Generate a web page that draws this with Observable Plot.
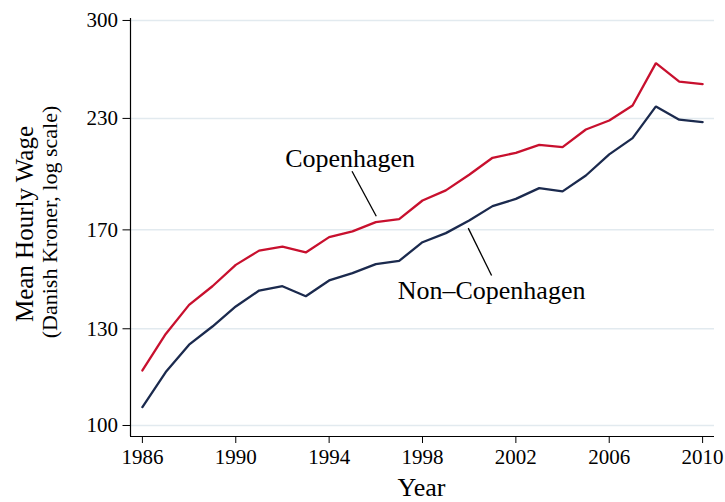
<!DOCTYPE html>
<html>
<head>
<meta charset="utf-8">
<script src="https://cdn.jsdelivr.net/npm/d3@7"></script>
<script src="https://cdn.jsdelivr.net/npm/@observablehq/plot@0.6"></script>
<style>
  html, body { margin: 0; padding: 0; background: #ffffff; }
  #chart { width: 725px; height: 502px; }
</style>
</head>
<body>
<div id="chart"></div>
<script>
const years = [1986, 1987, 1988, 1989, 1990, 1991, 1992, 1993, 1994, 1995, 1996, 1997, 1998,
               1999, 2000, 2001, 2002, 2003, 2004, 2005, 2006, 2007, 2008, 2009, 2010];
const copenhagen = [116.1, 128.2, 138.7, 145.9, 154.6, 160.7, 162.4, 159.9, 166.7, 169.3, 173.6, 175.0, 184.1,
                    189.2, 197.4, 206.7, 209.5, 214.1, 212.8, 223.2, 228.7, 238.2, 267.2, 254.2, 252.4];
const nonCopenhagen = [105.1, 115.6, 124.5, 130.8, 138.1, 144.2, 145.9, 142.0, 148.2, 151.2, 154.9, 156.3, 164.4,
                       168.5, 174.4, 181.3, 184.9, 190.4, 188.7, 197.0, 208.6, 218.0, 237.6, 229.2, 227.7];
const seriesNames = ["Copenhagen", "Non\u2013Copenhagen"];
const xTicks = [1986, 1990, 1994, 1998, 2002, 2006, 2010];
const yTicks = [100, 130, 170, 230, 300];
const xLabel = "Year";
const yLabel = "Mean Hourly Wage";
const ySubLabel = "(Danish Kroner, log scale)";

// annotation anchors (in data units: year, wage)
const labelX = [1994.9, 2000.96];
const labelY = [206.3, 144.2];
const pointerFrom = [[1994.98, 199.3], [1999.96, 170.8]];
const pointerTo = [[1996.02, 176.4], [2000.96, 150.2]];

const colors = ["#c8102e", "#1b2a4e"];
const xDomain = [1985.49, 2010.51];
const yDomain = [97.06, 301.6];

const rows = [];
years.forEach((yr, i) => {
  rows.push({year: yr, wage: copenhagen[i], series: seriesNames[0]});
  rows.push({year: yr, wage: nonCopenhagen[i], series: seriesNames[1]});
});
const labels = seriesNames.map((s, i) => ({text: s, x: labelX[i], y: labelY[i]}));
const pointers = seriesNames.map((s, i) => ({x1: pointerFrom[i][0], y1: pointerFrom[i][1], x2: pointerTo[i][0], y2: pointerTo[i][1]}));

const fontFamily = "'Liberation Serif', 'Times New Roman', serif";
const chart = Plot.plot({
  width: 725,
  height: 502,
  marginLeft: 130,
  marginRight: 11,
  marginTop: 18,
  marginBottom: 66,
  style: {fontFamily: fontFamily, background: "#ffffff", color: "#000000"},
  x: {domain: xDomain},
  y: {type: "log", domain: yDomain},
  color: {domain: seriesNames, range: colors},
  marks: [
    Plot.gridY(yTicks, {stroke: "#e2eaef", strokeOpacity: 1, strokeWidth: 1.5}),
    Plot.ruleX([xDomain[0]], {stroke: "#000", strokeWidth: 1.2}),
    Plot.ruleY([yDomain[0]], {stroke: "#000", strokeWidth: 1.2}),
    Plot.axisX({ticks: xTicks, tickSize: 7, tickPadding: 6, tickFormat: d => String(d), fontSize: 21, label: null}),
    Plot.axisY({ticks: yTicks, tickSize: 7.5, tickPadding: 5, tickFormat: d => String(d), fontSize: 21, label: null}),
    Plot.line(rows, {x: "year", y: "wage", z: "series", stroke: "series", strokeWidth: 2.3, strokeLinejoin: "miter"}),
    Plot.link(pointers, {x1: "x1", y1: "y1", x2: "x2", y2: "y2", stroke: "#000", strokeWidth: 1.3}),
    Plot.text(labels, {x: "x", y: "y", text: "text", fontSize: 26, fill: "#000"}),
    Plot.text([xLabel], {frameAnchor: "bottom", dy: 59, text: d => d, fontSize: 26, fill: "#000", dx: -1})
  ]
});
document.getElementById("chart").appendChild(chart);

// rotated y-axis titles
const svg = d3.select(chart);
svg.append("text")
  .attr("transform", "translate(25,224) rotate(-90)")
  .attr("text-anchor", "middle")
  .attr("dy", "0.32em")
  .attr("font-family", fontFamily)
  .attr("font-size", 25)
  .attr("fill", "#000")
  .text(yLabel);
svg.append("text")
  .attr("transform", "translate(50,222) rotate(-90)")
  .attr("text-anchor", "middle")
  .attr("dy", "0.32em")
  .attr("font-family", fontFamily)
  .attr("font-size", 22)
  .attr("fill", "#000")
  .text(ySubLabel);
</script>
</body>
</html>
